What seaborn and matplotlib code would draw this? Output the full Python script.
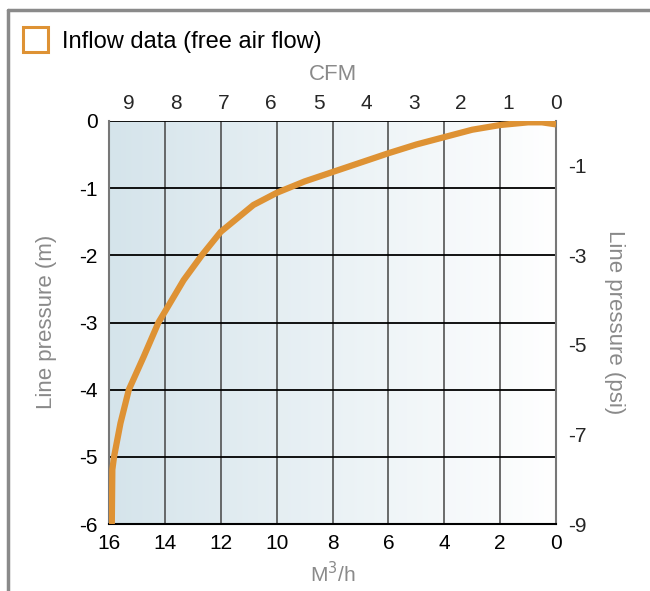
import numpy as np
import pandas as pd
import matplotlib
matplotlib.use("Agg")
import matplotlib.pyplot as plt
import seaborn as sns
from matplotlib import font_manager
from matplotlib.patches import Rectangle
from matplotlib.lines import Line2D

sns.set_style("white")
names = {f.name for f in font_manager.fontManager.ttflist}
tick_font = "Liberation Sans Narrow" if "Liberation Sans Narrow" in names else "Liberation Sans"
plt.rcParams['font.family'] = ['Liberation Sans', 'DejaVu Sans']
plt.rcParams['axes.unicode_minus'] = False

# inflow curve (free air flow m3/h vs line pressure m)
flow = [0, 0.5, 1, 2, 3, 4, 5, 6, 7, 8, 9, 10, 10.83, 12, 12.68, 13.33, 14, 14.23,
        14.76, 15.29, 15.59, 15.82, 15.88, 15.9]
pressure = [-0.05, -0.02, -0.02, -0.06, -0.13, -0.24, -0.35, -0.48, -0.62, -0.76, -0.9, -1.07,
            -1.25, -1.65, -2.0, -2.37, -2.84, -3.0, -3.51, -4.0, -4.5, -5.0, -5.19, -6.0]
flow_ticks = [16, 14, 12, 10, 8, 6, 4, 2, 0]
cfm_ticks = [9, 8, 7, 6, 5, 4, 3, 2, 1, 0]
m_ticks = [0, -1, -2, -3, -4, -5, -6]
psi_ticks = [-1, -3, -5, -7, -9]

df = pd.DataFrame({'flow': flow, 'pressure': pressure})

orange = '#de9234'
grey = '#8a8a8a'

fig = plt.figure(figsize=(6.5, 5.91), dpi=100)
ax = fig.add_axes([109/650, 67/591, 447/650, 403/591])

# background gradient (blue-grey left -> white right)
grad = np.linspace(0, 1, 256).reshape(1, -1)
cmap = matplotlib.colors.LinearSegmentedColormap.from_list('bg', ['#d5e4eb', '#ffffff'])
ax.imshow(grad, extent=[16, 0, -6, 0], aspect='auto', cmap=cmap, zorder=0)

sns.lineplot(data=df, x='flow', y='pressure', color=orange, linewidth=4.5, sort=False,
             estimator=None, ax=ax, zorder=5, solid_capstyle='butt', solid_joinstyle='round')

ax.set_xlim(16, 0)
ax.set_ylim(-6, 0)
ax.set_xticks(flow_ticks)
ax.set_yticks(m_ticks)
for v in flow_ticks[1:-1]:
    ax.axvline(v, color='#444444', lw=1.1, zorder=2)
for v in m_ticks[1:-1]:
    ax.axhline(v, color='black', lw=1.3, zorder=2)
ax.axhline(0, color='black', lw=1.3, zorder=2)

for s in ['left', 'right']:
    ax.spines[s].set_color('#777777')
    ax.spines[s].set_linewidth(1.5)
ax.spines['bottom'].set_color('black')
ax.spines['bottom'].set_linewidth(1.5)
ax.spines['top'].set_visible(False)

ax.tick_params(axis='x', length=3, width=1, colors='#444444', labelcolor='black', pad=4)
ax.tick_params(axis='y', length=0, labelcolor='black', pad=8)
for lab in ax.get_xticklabels() + ax.get_yticklabels():
    lab.set_fontfamily(tick_font)
    lab.set_fontsize(15)
ax.set_xlabel('')
ax.set_ylabel('')

top = ax.secondary_xaxis('top', functions=(lambda q: q * 0.5886, lambda c: c / 0.5886))
top.set_xticks(cfm_ticks)
top.tick_params(length=0, pad=6)
top.spines['top'].set_visible(False)
for lab in top.get_xticklabels():
    lab.set_fontfamily(tick_font)
    lab.set_fontsize(15)

right = ax.secondary_yaxis('right', functions=(lambda m: m * 1.5, lambda p: p / 1.5))
right.set_yticks(psi_ticks)
right.tick_params(length=0, pad=9)
right.spines['right'].set_visible(False)
for lab in right.get_yticklabels():
    lab.set_fontfamily(tick_font)
    lab.set_fontsize(15)

fig.text(333/650, 1 - 75/591, 'CFM', color=grey, fontsize=16, ha='center', va='center')
fig.text(333/650, 1 - 574/591, 'M$^3$/h', color=grey, fontsize=15, ha='center', va='center')
fig.text(47/650, 1 - 322/591, 'Line pressure (m)', color=grey, fontsize=16, rotation=90,
         ha='center', va='center')
fig.text(614/650, 1 - 322/591, 'Line pressure (psi)', color=grey, fontsize=16, rotation=-90,
         ha='center', va='center')

# header legend
fig.patches.append(Rectangle((23/650, 1 - 52/591), 25/650, 25/591, transform=fig.transFigure,
                             fill=False, edgecolor=orange, linewidth=2.2))
fig.text(62/650, 1 - 42/591, 'Inflow data (free air flow)', color='black', fontsize=17,
         ha='left', va='center', fontfamily=tick_font)

# frame lines top and left
fig.add_artist(Line2D([8/650, 1], [1 - 10/591, 1 - 10/591], transform=fig.transFigure,
                      color='#8a8a8a', lw=2.5))
fig.add_artist(Line2D([8/650, 8/650], [0, 1 - 10/591], transform=fig.transFigure,
                      color='#8a8a8a', lw=2.5))

fig.savefig('out.png', dpi=100)
